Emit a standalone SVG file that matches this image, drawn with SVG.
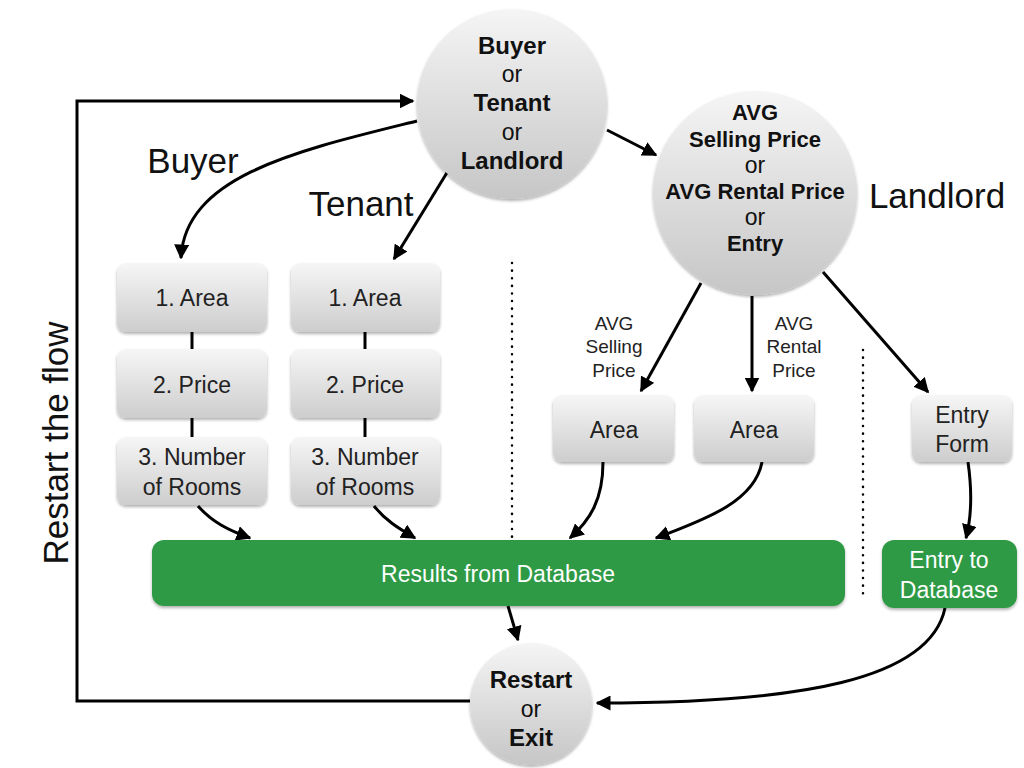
<svg xmlns="http://www.w3.org/2000/svg" width="1024" height="768" viewBox="0 0 1024 768">
<defs>
<linearGradient id="boxg" x1="0" y1="0" x2="0" y2="1">
<stop offset="0" stop-color="#f6f6f6"/>
<stop offset="1" stop-color="#cdcdcd"/>
</linearGradient>
<linearGradient id="circg" x1="0" y1="0" x2="0" y2="1">
<stop offset="0" stop-color="#f5f5f5"/>
<stop offset="1" stop-color="#c6c6c6"/>
</linearGradient>
<filter id="sh" x="-20%" y="-20%" width="140%" height="150%">
<feDropShadow dx="0" dy="2" stdDeviation="1.5" flood-color="#000" flood-opacity="0.3"/>
</filter>
<marker id="ah" viewBox="0 0 10 10" refX="9" refY="5" markerWidth="5" markerHeight="5" orient="auto" markerUnits="strokeWidth">
<path d="M0,0 L10,5 L0,10 z" fill="#000"/>
</marker>
<style>
.box{fill:url(#boxg);filter:url(#sh)}
.circ{fill:url(#circg);filter:url(#sh)}
.green{fill:#2f9a44;filter:url(#sh)}
.bt{font-family:"Liberation Sans",Arial,sans-serif;font-size:23px;fill:#222;text-anchor:middle}
.gt{font-family:"Liberation Sans",Arial,sans-serif;font-size:23px;fill:#fff;text-anchor:middle}
.ct{font-family:"Liberation Sans",Arial,sans-serif;font-size:24px;font-weight:bold;fill:#111;text-anchor:middle}
.co{font-family:"Liberation Sans",Arial,sans-serif;font-size:23px;fill:#111;text-anchor:middle}
.ct2{font-family:"Liberation Sans",Arial,sans-serif;font-size:22px;font-weight:bold;fill:#111;text-anchor:middle}
.big{font-family:"Liberation Sans",Arial,sans-serif;font-size:35px;fill:#111;text-anchor:middle}
.el{font-family:"Liberation Sans",Arial,sans-serif;font-size:19px;fill:#222;text-anchor:middle}
.ln{fill:none;stroke:#000;stroke-width:3}
.ar{fill:none;stroke:#000;stroke-width:3;marker-end:url(#ah)}
.dot{fill:none;stroke:#000;stroke-width:2.5;stroke-dasharray:0.1 7.5;stroke-linecap:round}
</style>
</defs>

<g id="dividers">
<line class="dot" x1="512" y1="263" x2="512" y2="540"/>
<line class="dot" x1="863" y1="350" x2="863" y2="598"/>
</g>

<g id="connectors">
<path class="ar" d="M470,701 L77,701 L77,101 L413,101"/>
<path class="ar" d="M417,121 C300,150 185,175 181,258"/>
<path class="ar" d="M448,171 L394,259"/>
<path class="ar" d="M607,130 L656,155"/>
<path class="ar" d="M701,283 L641,391"/>
<path class="ar" d="M752,296 L752,391"/>
<path class="ar" d="M823,272 L928,392"/>
<path class="ln" d="M192,332 L192,349"/>
<path class="ln" d="M192,418 L192,437"/>
<path class="ln" d="M365,332 L365,349"/>
<path class="ln" d="M365,418 L365,437"/>
<path class="ar" d="M198,506 C212,522 228,530 250,538"/>
<path class="ar" d="M374,506 C385,520 398,528 415,538"/>
<path class="ar" d="M603,462 C603,500 590,520 570,538"/>
<path class="ar" d="M762,462 C755,500 710,518 656,538"/>
<path class="ar" d="M968,462 C972,490 972,515 966,538"/>
<path class="ar" d="M508,606 L518,640"/>
<path class="ar" d="M945,608 C930,680 800,703 597,703"/>
</g>

<g id="n-top">
<circle class="circ" cx="512" cy="104" r="95"/>
<text class="ct" x="512" y="54">Buyer</text>
<text class="co" x="512" y="82">or</text>
<text class="ct" x="512" y="111">Tenant</text>
<text class="co" x="512" y="140">or</text>
<text class="ct" x="512" y="169">Landlord</text>
</g>

<g id="n-avg">
<circle class="circ" cx="755" cy="193" r="102"/>
<text class="ct2" x="755" y="120">AVG</text>
<text class="ct2" x="755" y="147">Selling Price</text>
<text class="co" x="755" y="173">or</text>
<text class="ct2" x="755" y="199">AVG Rental Price</text>
<text class="co" x="755" y="225">or</text>
<text class="ct2" x="755" y="251">Entry</text>
</g>

<g id="n-restart">
<circle class="circ" cx="531" cy="704" r="61"/>
<text class="ct" x="531" y="688">Restart</text>
<text class="co" x="531" y="717">or</text>
<text class="ct" x="531" y="746">Exit</text>
</g>

<g id="n-b1"><rect class="box" x="117" y="263" width="150" height="69" rx="9"/><text class="bt" x="192" y="306">1. Area</text></g>
<g id="n-b2"><rect class="box" x="117" y="349" width="150" height="69" rx="9"/><text class="bt" x="192" y="393">2. Price</text></g>
<g id="n-b3"><rect class="box" x="117" y="437" width="150" height="68" rx="9"/><text class="bt" x="192" y="465">3. Number</text><text class="bt" x="192" y="495">of Rooms</text></g>
<g id="n-t1"><rect class="box" x="291" y="263" width="149" height="69" rx="9"/><text class="bt" x="365" y="306">1. Area</text></g>
<g id="n-t2"><rect class="box" x="291" y="349" width="149" height="69" rx="9"/><text class="bt" x="365" y="393">2. Price</text></g>
<g id="n-t3"><rect class="box" x="291" y="437" width="149" height="68" rx="9"/><text class="bt" x="365" y="465">3. Number</text><text class="bt" x="365" y="495">of Rooms</text></g>
<g id="n-a1"><rect class="box" x="553" y="395" width="121" height="67" rx="9"/><text class="bt" x="614" y="438">Area</text></g>
<g id="n-a2"><rect class="box" x="694" y="395" width="120" height="67" rx="9"/><text class="bt" x="754" y="438">Area</text></g>
<g id="n-ef"><rect class="box" x="912" y="395" width="100" height="67" rx="9"/><text class="bt" x="962" y="423">Entry</text><text class="bt" x="962" y="452">Form</text></g>

<g id="n-results"><rect class="green" x="152" y="540" width="693" height="66" rx="12"/><text class="gt" x="498" y="582">Results from Database</text></g>
<g id="n-entrydb"><rect class="green" x="882" y="540" width="135" height="68" rx="12"/><text class="gt" x="949" y="568">Entry to</text><text class="gt" x="949" y="598">Database</text></g>

<g id="labels">
<text class="big" x="193" y="173">Buyer</text>
<text class="big" x="361" y="216">Tenant</text>
<text class="big" x="937" y="208">Landlord</text>
<text class="big" transform="translate(68,443) rotate(-90)">Restart the flow</text>
<text class="el" x="614" y="330">AVG</text>
<text class="el" x="614" y="353">Selling</text>
<text class="el" x="614" y="377">Price</text>
<text class="el" x="794" y="330">AVG</text>
<text class="el" x="794" y="353">Rental</text>
<text class="el" x="794" y="377">Price</text>
</g>
</svg>
